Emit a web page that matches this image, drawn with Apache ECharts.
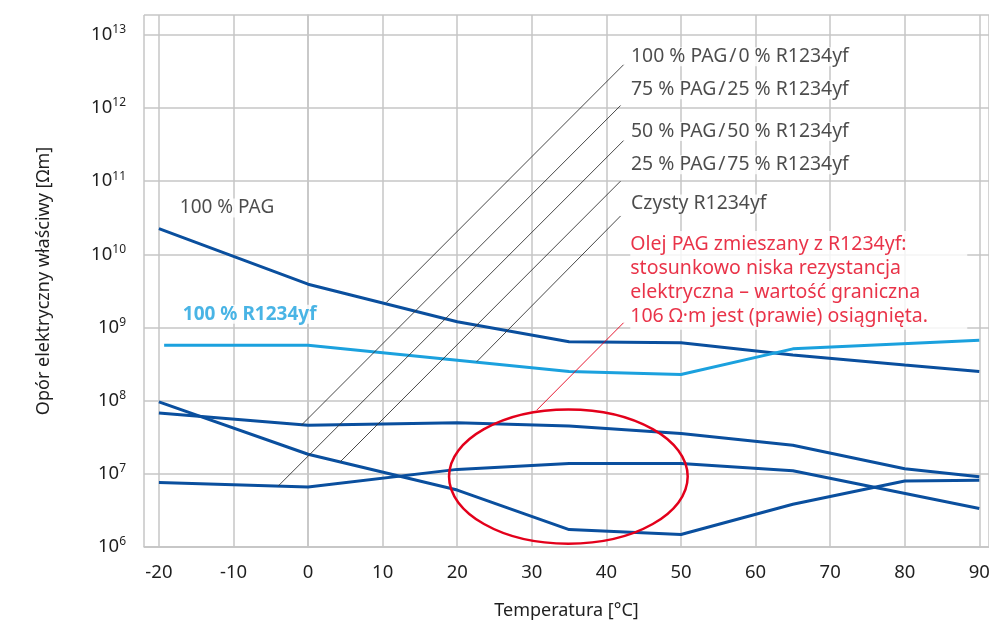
<!DOCTYPE html>
<html>
<head>
<meta charset="utf-8">
<script src="https://cdn.jsdelivr.net/npm/echarts@6/dist/echarts.min.js"></script>
<style>
html, body { margin: 0; padding: 0; background: #fff; }
#chart { width: 989px; height: 623px; }
</style>
</head>
<body>
<div id="chart"></div>
<script>
const FONT = '"Noto Sans", "Open Sans", sans-serif';
const TEXT = '#1f1f1f';
const DARK_BLUE = '#0a4f9e';
const LIGHT_BLUE = '#1ba1de';
const RED = '#e3001b';
const GRID = '#c6c6c6';

// Specific electrical resistance [Ωm] over temperature [°C]
const tPag = [-20, 0, 20, 35, 50, 65, 80, 90];
const rPag = [2.24e10, 3.9e9, 1.2e9, 6.4e8, 6.2e8, 4.2e8, 3.06e8, 2.5e8];

const tR1234yf = [-19.3, 0, 35, 50, 65, 90];
const rR1234yf = [5.7e8, 5.7e8, 2.5e8, 2.28e8, 5.1e8, 6.7e8];

const tMix75 = [-20, 0, 20, 35, 50, 65, 80, 90];
const rMix75 = [6.8e7, 4.6e7, 4.97e7, 4.5e7, 3.56e7, 2.46e7, 1.17e7, 9.1e6];

const tMix50 = [-20, 0, 20, 35, 50, 65, 90];
const rMix50 = [7.6e6, 6.6e6, 1.15e7, 1.38e7, 1.38e7, 1.1e7, 3.35e6];

const tMix25 = [-20, 0, 20, 35, 50, 65, 80, 90];
const rMix25 = [9.6e7, 1.85e7, 6.0e6, 1.73e6, 1.48e6, 3.84e6, 8.0e6, 8.2e6];

// Mixture captions with their leader lines (label anchor, line top, line end on curve)
const mixLabels = [
  '100 % PAG\u200a/\u200a0 % R1234yf',
  '75 % PAG\u200a/\u200a25 % R1234yf',
  '50 % PAG\u200a/\u200a50 % R1234yf',
  '25 % PAG\u200a/\u200a75 % R1234yf',
  'Czysty R1234yf'
];
const mixLabelT = [43.3, 43.3, 43.3, 43.3, 43.3];
const mixLabelR = [5.0e12, 1.77e12, 4.75e11, 1.67e11, 4.88e10];
const leaderTopT = [42.3, 41.9, 42.3, 41.9, 41.9];
const leaderTopR = [3.89e12, 1.08e12, 3.58e11, 1.0e11, 3.34e10];
const leaderEndT = [10.5, -0.9, -4.0, 4.3, 22.6];
const leaderEndR = [2.2e9, 4.62e7, 6.82e6, 1.455e7, 3.4e8];

// Note on the mixed oil, its leader line and the highlighted region
const noteLines = [
  'Olej PAG zmieszany z R1234yf:',
  'stosunkowo niska rezystancja',
  'elektryczna \u2013 wartość graniczna',
  '106 Ω·m jest (prawie) osiągnięta.'
];
const notePos = [43.2, 4.39e9];
const noteLeader = [[42.3, 1.16e9], [30.65, 7.4e7]];
const ellipseCenter = [34.9, 9.27e6];
const ellipseHalfWidth = 16.0;
const ellipseTop = 7.59e7;
const ellipseBottom = 1.11e6;

const curveLabels = [
  { name: '100 % PAG', value: [-17.2, 4.3e10], color: TEXT, bold: false },
  { name: '100 % R1234yf', value: [-16.8, 1.52e9], color: LIGHT_BLUE, bold: true }
];

const zip = (xs, ys) => xs.map((x, i) => [x, ys[i]]);

function curve(name, xs, ys, color) {
  return {
    name: name,
    type: 'line',
    data: zip(xs, ys),
    showSymbol: false,
    symbol: 'none',
    lineStyle: { color: color, width: 3 },
    z: 3,
    silent: true
  };
}

const chart = echarts.init(document.getElementById('chart'), null, { renderer: 'canvas' });

chart.setOption({
  animation: false,
  backgroundColor: '#fff',
  textStyle: { fontFamily: FONT },
  grid: { left: 144, right: 0, top: 15, bottom: 76, containLabel: false, outerBoundsMode: 'none' },
  xAxis: {
    type: 'value',
    min: -22,
    max: 91.3,
    splitNumber: 11,
    name: 'Temperatura [°C]',
    nameLocation: 'middle',
    nameGap: 55,
    nameTextStyle: { fontFamily: FONT, fontSize: 18, color: TEXT },
    axisLine: { show: true, lineStyle: { color: GRID, width: 1.5 } },
    axisTick: { show: false },
    splitLine: { show: true, lineStyle: { color: GRID, width: 1.5 } },
    axisLabel: {
      fontFamily: FONT, fontSize: 18.5, color: TEXT, margin: 16,
      showMinLabel: false, showMaxLabel: false,
      formatter: v => (Math.abs(v % 10) < 1e-6 ? String(v) : '')
    }
  },
  yAxis: {
    type: 'log',
    logBase: 10,
    min: 1e6,
    max: Math.pow(10, 13.27),
    splitNumber: 7,
    name: 'Opór elektryczny właściwy [Ωm]',
    nameLocation: 'middle',
    nameGap: 91,
    nameTextStyle: { fontFamily: FONT, fontSize: 18, color: TEXT },
    axisLine: { show: true, lineStyle: { color: GRID, width: 1.5 } },
    axisTick: { show: false },
    splitLine: { show: true, lineStyle: { color: GRID, width: 1.5 } },
    axisLabel: {
      margin: 18,
      showMaxLabel: false,
      formatter: v => {
        const e = Math.log10(v);
        const n = Math.round(e);
        if (Math.abs(e - n) > 1e-6) return '';
        return '{b|10}{e|' + n + '}';
      },
      rich: {
        b: { fontFamily: FONT, fontSize: 18.5, color: TEXT, lineHeight: 22 },
        e: { fontFamily: FONT, fontSize: 12, color: TEXT, lineHeight: 12, verticalAlign: 'top' }
      }
    }
  },
  series: [
    curve('100 % PAG', tPag, rPag, DARK_BLUE),
    curve('100 % R1234yf', tR1234yf, rR1234yf, LIGHT_BLUE),
    curve('75 % PAG / 25 % R1234yf', tMix75, rMix75, DARK_BLUE),
    curve('50 % PAG / 50 % R1234yf', tMix50, rMix50, DARK_BLUE),
    curve('25 % PAG / 75 % R1234yf', tMix25, rMix25, DARK_BLUE),
    {
      name: 'leaders',
      type: 'lines',
      coordinateSystem: 'cartesian2d',
      silent: true,
      z: 4,
      lineStyle: { color: '#333', width: 0.9, opacity: 1 },
      data: leaderTopT.map((t, i) => ({
        coords: [[t, leaderTopR[i]], [leaderEndT[i], leaderEndR[i]]]
      }))
    },
    {
      name: 'noteLeader',
      type: 'lines',
      coordinateSystem: 'cartesian2d',
      silent: true,
      z: 4,
      lineStyle: { color: RED, width: 0.9, opacity: 1 },
      data: [{ coords: noteLeader }]
    },
    {
      name: 'highlight',
      type: 'custom',
      silent: true,
      z: 5,
      data: [[ellipseCenter[0], ellipseCenter[1]]],
      renderItem: (params, api) => {
        const c = api.coord([ellipseCenter[0], ellipseCenter[1]]);
        const r = api.coord([ellipseCenter[0] + ellipseHalfWidth, ellipseCenter[1]]);
        const top = api.coord([ellipseCenter[0], ellipseTop]);
        const bottom = api.coord([ellipseCenter[0], ellipseBottom]);
        return {
          type: 'ellipse',
          shape: {
            cx: c[0],
            cy: (top[1] + bottom[1]) / 2,
            rx: r[0] - c[0],
            ry: (bottom[1] - top[1]) / 2
          },
          style: { fill: 'none', stroke: RED, lineWidth: 2.5 }
        };
      }
    },
    {
      name: 'mixLabels',
      type: 'scatter',
      symbolSize: 0,
      silent: true,
      z: 6,
      data: mixLabels.map((txt, i) => ({ name: txt, value: [mixLabelT[i], mixLabelR[i]] })),
      label: {
        show: true,
        position: 'right',
        distance: 0,
        formatter: p => p.name,
        fontFamily: FONT,
        fontSize: 19.4,
        color: TEXT,
        backgroundColor: '#fff',
        padding: [0, 2, 0, 0]
      }
    },
    {
      name: 'curveLabels',
      type: 'scatter',
      symbolSize: 0,
      silent: true,
      z: 6,
      data: curveLabels.map(c => ({
        name: c.name,
        value: c.value,
        label: { color: c.color, fontWeight: c.bold ? 'bold' : 'normal' }
      })),
      label: {
        show: true,
        position: 'right',
        distance: 0,
        formatter: p => p.name,
        fontFamily: FONT,
        fontSize: 19,
        backgroundColor: '#fff',
        padding: [0, 2, 0, 0]
      }
    },
    {
      name: 'note',
      type: 'scatter',
      symbolSize: 0,
      silent: true,
      z: 6,
      data: [{ name: 'note', value: notePos }],
      label: {
        show: true,
        position: 'right',
        distance: 0,
        formatter: () => noteLines.join('\n'),
        fontFamily: FONT,
        fontSize: 19.5,
        lineHeight: 23.7,
        color: RED,
        backgroundColor: '#fff',
        width: 337,
        padding: [2, 0, 2, 0]
      }
    }
  ]
});
</script>
</body>
</html>
